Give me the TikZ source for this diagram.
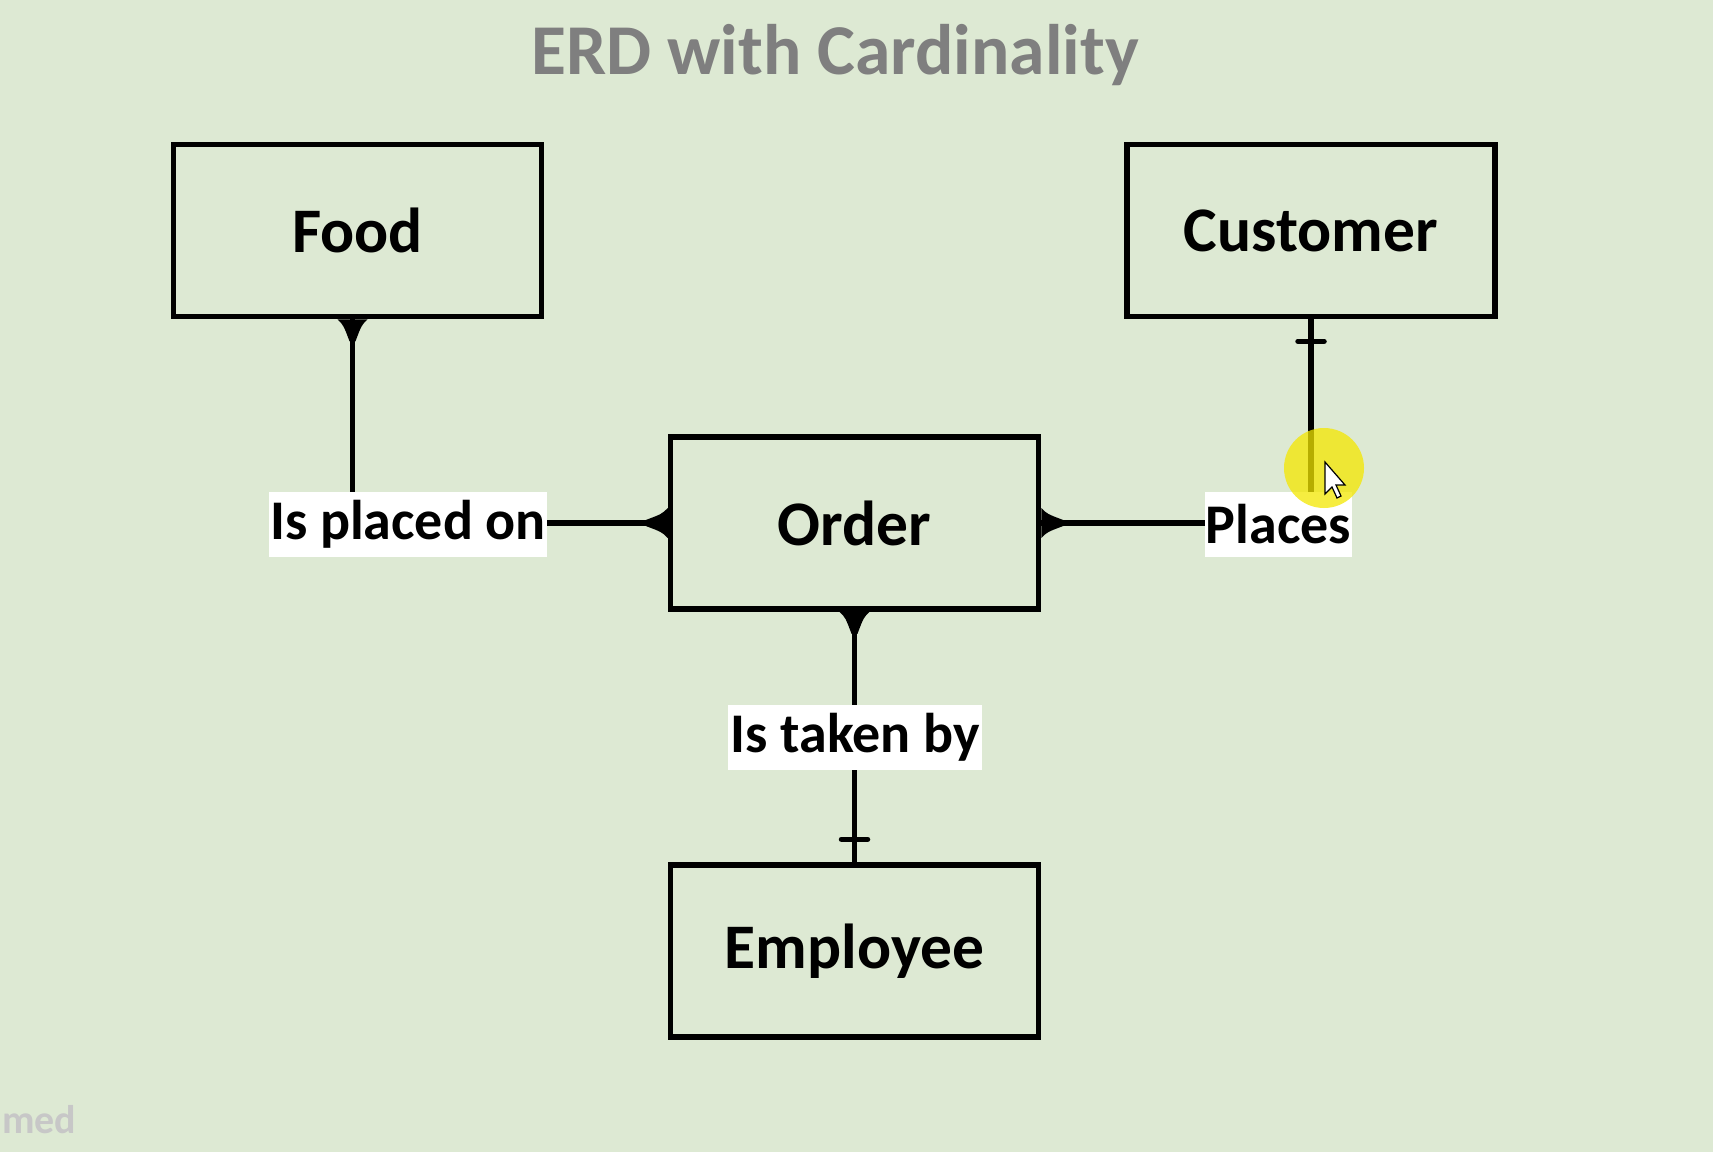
\documentclass[tikz,border=0pt]{standalone}
\usepackage{fontspec}
\setmainfont{Carlito}
\definecolor{bgc}{RGB}{221,233,211}
\definecolor{titlec}{RGB}{127,127,127}
\begin{document}
\begin{tikzpicture}[x=1pt,y=-1pt,
  entity/.style={draw=black,line width=5.5pt,minimum width=368pt,minimum height=172pt,inner sep=0pt,font=\fontsize{63.5}{70}\selectfont\bfseries},
  rel/.style={fill=white,inner sep=0pt,minimum height=65pt,font=\fontsize{56}{62}\selectfont\bfseries},
  conn/.style={line width=5.5pt},
  crow/.pic={\fill (-15pt,0pt) .. controls (-9pt,-6pt) .. (-3pt,-22pt) -- (3pt,-22pt) .. controls (9pt,-6pt) .. (15pt,0pt) -- cycle;},
  bar/.style={line width=5.5pt,line cap=round}]
\fill[bgc] (0,0) rectangle (1713,1152);
\useasboundingbox (0,0) rectangle (1713,1152);
\node[text=titlec,font=\fontsize{71.5}{78}\selectfont\bfseries] (title) at (835,55) {ERD with Cardinality};
\node[entity] (food) at (357.5,230.5) {Food};
\node[entity] (cust) at (1311,230.5) {Customer};
\node[entity] (order) at (854.5,523) {Order};
\node[entity] (emp) at (854.5,951) {Employee};
\node[rel,minimum width=278pt] (placed) at (408,524.5) {Is placed on};
\node[rel,minimum width=147pt] (places) at (1278.5,524.5) {Places};
\node[rel,minimum width=254pt] (taken) at (855,737.5) {Is taken by};
% connectors
\coordinate (fs) at ([xshift=-5pt]food.south);
\draw[conn] (fs) -- (fs |- placed.north);
\draw[conn] (placed.east |- order.west) -- (order.west);
\draw[conn] (order.east) -- (places.west |- order.east);
\draw[conn] (cust.south) -- (cust.south |- places.north);
\draw[conn] (order.south) -- (taken.north -| order.south);
\draw[conn] (taken.south -| emp.north) -- (emp.north);
% crow's feet
\pic at (fs) {crow};
\pic[rotate=-90] at (order.west) {crow};
\pic[rotate=90] at (order.east) {crow};
\pic at (order.south) {crow};
% one bars
\coordinate (cb) at ([yshift=-22pt]cust.south);
\draw[bar] ([xshift=-13pt]cb) -- ([xshift=13pt]cb);
\coordinate (eb) at ([yshift=23pt]emp.north);
\draw[bar] ([xshift=-13pt]eb) -- ([xshift=13pt]eb);
% cursor highlight
\fill[yellow!90!olive,opacity=0.75] (1324,468) circle (40pt);
\draw[fill=white,line width=1.2pt] (1325,462) -- (1325,494) -- (1332,487) -- (1337,498) -- (1341,496) -- (1336,485) -- (1345,485) -- cycle;
% watermark
\node[text=black!22,font=\fontsize{40}{44}\selectfont\bfseries,anchor=west,inner sep=0pt] (wm) at (2,1120) {med};
\end{tikzpicture}
\end{document}
